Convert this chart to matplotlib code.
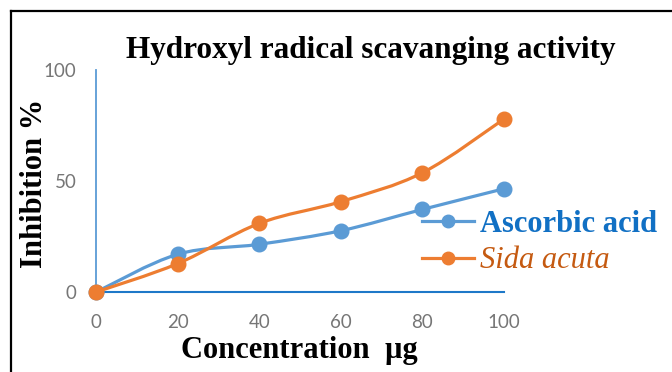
import matplotlib
matplotlib.use('Agg')
import matplotlib.pyplot as plt
from matplotlib.path import Path
from matplotlib.patches import PathPatch
from matplotlib.lines import Line2D
import numpy as np

concentration = [0, 20, 40, 60, 80, 100]
ascorbic_acid = [0, 17, 21.5, 27.6, 37.2, 46.5]
sida_acuta = [0, 12.8, 30.9, 40.7, 53.7, 77.9]

x_ticks = [0, 20, 40, 60, 80, 100]
y_ticks = [0, 50, 100]

BLUE = '#5B9BD5'
ORANGE = '#ED7D31'


def smooth_path(xs, ys):
    # Excel 风格的平滑线：每段用三次贝塞尔，控制点取相邻点斜率的 1/6
    pts = np.column_stack([xs, ys]).astype(float)
    n = len(pts)
    verts = [pts[0]]
    codes = [Path.MOVETO]
    for i in range(n - 1):
        p0 = pts[i - 1] if i > 0 else pts[i]
        p1 = pts[i]
        p2 = pts[i + 1]
        p3 = pts[i + 2] if i + 2 < n else pts[i + 1]
        c1 = p1 + (p2 - p0) / 6
        c2 = p2 - (p3 - p1) / 6
        verts += [c1, c2, p2]
        codes += [Path.CURVE4] * 3
    return Path(verts, codes)


fig = plt.figure(figsize=(6.72, 3.72), dpi=100)
ax = fig.add_axes([0.143, 0.215, 0.607, 0.597])

for ys, color, zo in [(ascorbic_acid, BLUE, 3), (sida_acuta, ORANGE, 4)]:
    patch = PathPatch(smooth_path(concentration, ys), facecolor='none',
                      edgecolor=color, linewidth=2.3, zorder=zo, clip_on=False)
    ax.add_patch(patch)
    ax.plot(concentration, ys, linestyle='none', marker='o', markersize=10.5,
            color=color, zorder=zo, clip_on=False)

ax.set_xlim(0, 100)
ax.set_ylim(0, 100)
ax.set_xticks(x_ticks)
ax.set_yticks(y_ticks)
ax.tick_params(length=0, labelsize=13.5, labelcolor='#767676')
ax.tick_params(axis='x', pad=16)
ax.tick_params(axis='y', pad=14)
for lab in ax.get_xticklabels() + ax.get_yticklabels():
    lab.set_family('Lato')

for s in ['top', 'right']:
    ax.spines[s].set_visible(False)
ax.spines['left'].set_color(BLUE)
ax.spines['left'].set_linewidth(1.3)
ax.spines['bottom'].set_color('#1E78C8')
ax.spines['bottom'].set_linewidth(1.5)
ax.spines['bottom'].set_zorder(2)

serif = 'Liberation Serif'
fig.text(0.552, 0.865, 'Hydroxyl radical scavanging activity', ha='center', va='center',
         fontsize=22.5, fontweight='bold', family=serif)
fig.text(0.052, 0.508, 'Inhibition %', ha='center', va='center', rotation=90,
         fontsize=22, fontweight='bold', family=serif)
fig.text(0.445, 0.057, 'Concentration  µg', ha='center', va='center',
         fontsize=22, fontweight='bold', family=serif)

# 图例手动摆放
handles = [Line2D([], [], color=BLUE, linewidth=2.3, marker='o', markersize=9),
           Line2D([], [], color=ORANGE, linewidth=2.3, marker='o', markersize=9)]
leg = fig.legend(handles, ['Ascorbic acid', 'Sida acuta'], loc='center left',
                 bbox_to_anchor=(0.628, 0.348), frameon=False, handlelength=1.7,
                 handletextpad=0.2, labelspacing=0.25, borderaxespad=0, borderpad=0,
                 prop=dict(family=serif, size=22))
texts = leg.get_texts()
texts[0].set_color('#1170C4')
texts[0].set_fontproperties(dict(family=serif, weight='bold', size=22))
texts[1].set_color('#C55A11')
texts[1].set_fontproperties(dict(family=serif, style='italic', size=22))

# 左、上的黑色外框
fig.add_artist(Line2D([11 / 672, 11 / 672], [0, 1 - 11 / 372], color='black', linewidth=1.6))
fig.add_artist(Line2D([11 / 672, 1], [1 - 11 / 372, 1 - 11 / 372], color='black', linewidth=1.6))

fig.savefig('out.png', dpi=100)
